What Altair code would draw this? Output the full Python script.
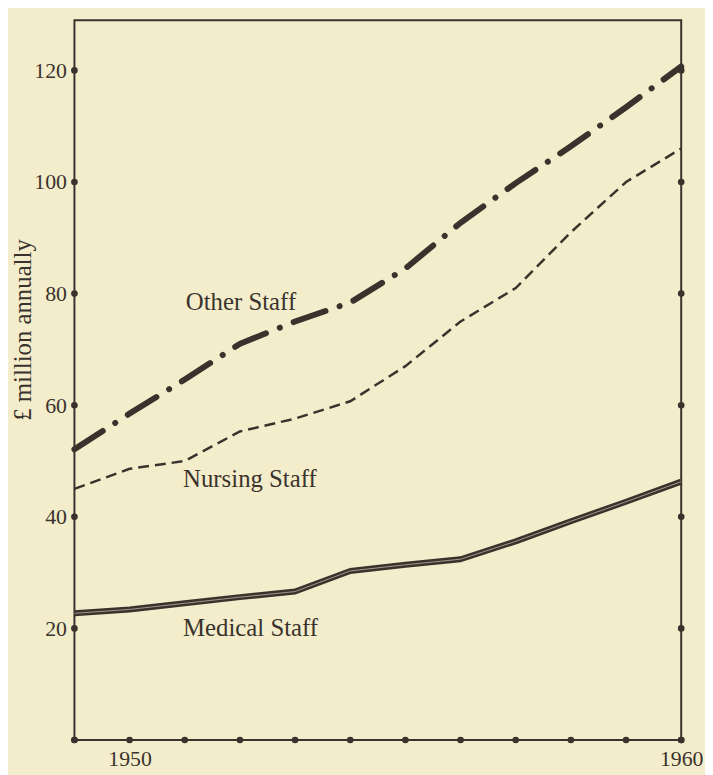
import altair as alt
import pandas as pd

years = list(range(1949, 1961))
other = [52.1, 58.5, 64.6, 71.0, 75.0, 78.4, 84.5, 92.7, 99.8, 106.4, 113.4, 120.7]
nursing = [45.0, 48.6, 50.0, 55.3, 57.6, 60.7, 67.0, 75.0, 81.0, 91.0, 100.0, 106.0]
medical = [22.7, 23.4, 24.5, 25.6, 26.6, 30.3, 31.4, 32.4, 35.6, 39.2, 42.7, 46.3]

y_ticks = [0, 20, 40, 60, 80, 100, 120]
x_labels = [1950, 1960]

label_names = ["Other Staff", "Nursing Staff", "Medical Staff"]
label_x = [1951.02, 1950.97, 1950.97]
label_y = [78.4, 46.7, 20.1]

INK = "#3a332d"
BG = "#f4edcb"
FONT = "Liberation Serif"

df = pd.DataFrame({"year": years, "other": other, "nursing": nursing, "medical": medical})

xs = alt.Scale(domain=[1949, 1960], nice=False)
ys = alt.Scale(domain=[0, 129], nice=False)

X = alt.X("year:Q", scale=xs,
          axis=alt.Axis(values=x_labels, format="d", title=None, ticks=False, domain=False,
                        grid=False, labelFontSize=22, labelFont=FONT, labelColor=INK,
                        labelPadding=9, labelBaseline="top", labelFlush=False))

base = alt.Chart(df)

other_line = base.mark_line(color=INK, strokeWidth=6, strokeCap="round",
                            strokeDash=[34, 15, 0.1, 15]).encode(
    x=X,
    y=alt.Y("other:Q", scale=ys,
            axis=alt.Axis(values=y_ticks[1:], title="£ million annually", ticks=False, domain=False,
                          grid=False, labelFontSize=22, labelFont=FONT, labelColor=INK,
                          labelPadding=8, titleFont=FONT, titleFontSize=25, titleFontWeight="normal",
                          titleColor=INK, titleAngle=270, titleX=-52, titleY=312,
                          titleAlign="center", titleBaseline="middle")),
)

nursing_line = base.mark_line(color=INK, strokeWidth=2.5, strokeDash=[11, 6]).encode(
    x=alt.X("year:Q", scale=xs), y=alt.Y("nursing:Q", scale=ys))

medical_line = base.mark_line(color=INK, strokeWidth=6, strokeJoin="round").encode(
    x=alt.X("year:Q", scale=xs), y=alt.Y("medical:Q", scale=ys))
medical_inner = base.mark_line(color="#a39a8a", strokeWidth=1).encode(
    x=alt.X("year:Q", scale=xs), y=alt.Y("medical:Q", scale=ys))

dots_df = pd.DataFrame(
    [{"x": y, "y": 0} for y in years]
    + [{"x": 1949, "y": v} for v in y_ticks]
    + [{"x": 1960, "y": v} for v in y_ticks]
)
dots = alt.Chart(dots_df).mark_point(filled=True, color=INK, size=45, opacity=1, clip=False).encode(
    x=alt.X("x:Q", scale=xs), y=alt.Y("y:Q", scale=ys))

lab_df = pd.DataFrame({"name": label_names, "x": label_x, "y": label_y})
labels = alt.Chart(lab_df).mark_text(font=FONT, fontSize=25, color=INK, align="left",
                                     baseline="middle").encode(
    x=alt.X("x:Q", scale=xs), y=alt.Y("y:Q", scale=ys), text="name:N")

chart = alt.layer(other_line, nursing_line, medical_line, medical_inner, dots, labels).properties(
    width=612, height=726,
    autosize=alt.AutoSizeParams(type="none"),
    padding={"left": 67, "top": 9, "right": 24, "bottom": 32},
    background=BG,
).configure_view(stroke=INK, strokeWidth=2)

chart.save("out.html", embed_options={"renderer": "svg", "actions": False})
